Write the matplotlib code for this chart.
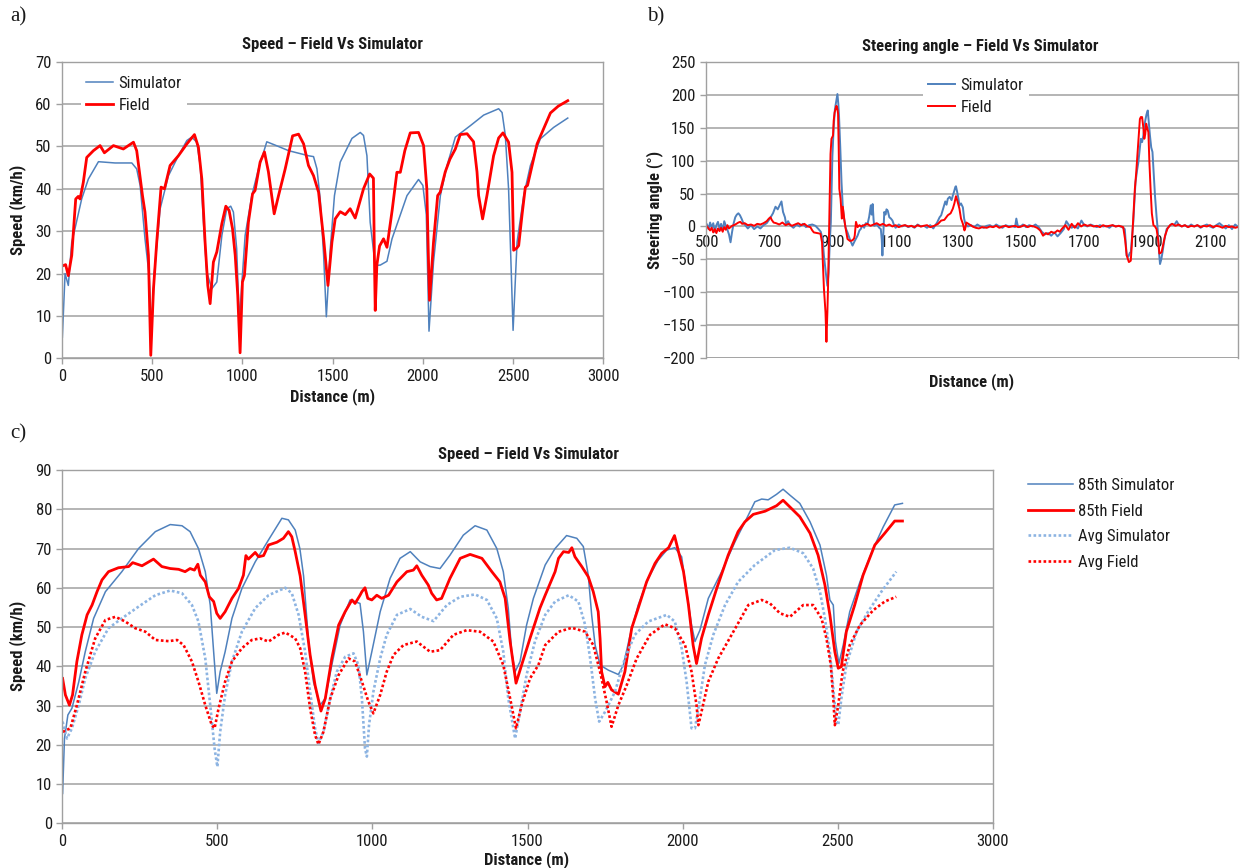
import matplotlib
matplotlib.use("Agg")
import matplotlib.pyplot as plt
from matplotlib import font_manager as fm

# ---------------------------------------------------------------- data
# a) speed along the route, single run
a_sim_x = [2, 17, 35, 54, 72, 109, 146, 202, 294, 387, 414, 433, 460, 483, 497, 512, 544, 590, 645, 692,
           719, 747, 766, 784, 802, 830, 858, 886, 913, 935, 950, 968, 983, 996, 1015, 1052, 1089, 1135, 1182, 1256,
           1330, 1366, 1394, 1413, 1431, 1450, 1465, 1487, 1510, 1542, 1607, 1653, 1671, 1690, 1708, 1736, 1764, 1801, 1829, 1912,
           1976, 2000, 2019, 2034, 2059, 2097, 2134, 2180, 2263, 2337, 2420, 2439, 2457, 2475, 2490, 2500, 2522, 2559, 2596, 2651,
           2725, 2803]
a_sim_y = [5, 20, 17.2, 27.4, 30.6, 37.6, 42.3, 46.4, 46.1, 46.1, 44.7, 40.8, 28.2, 19.5, 7, 20.4, 35.3, 43.1, 47.8, 51.4,
           52.2, 51, 45.5, 32.1, 20.4, 16.4, 18, 29, 35.3, 35.9, 34.5, 25.9, 8.6, 17.2, 29, 38.4, 44.7, 51.1, 50.3, 49,
           48.2, 47.8, 47.6, 44.7, 37.6, 24.3, 9.8, 25.9, 38.4, 46.3, 51.9, 53.3, 52.6, 47.8, 32.1, 21.9, 22, 22.9, 28.2, 38.4,
           42.2, 40.8, 33.9, 6.4, 22.7, 38.4, 45.5, 52.2, 54.9, 57.4, 58.9, 58, 52.6, 40, 20.3, 6.6, 27.4, 38.4, 45.5, 51.8,
           54.5, 56.7]

a_fld_x = [2, 20, 35, 54, 76, 90, 100, 118, 137, 174, 211, 235, 285, 340, 396, 414, 446, 460, 479, 492,
           507, 525, 549, 568, 599, 645, 692, 734, 756, 775, 793, 808, 821, 839, 858, 886, 908, 926, 945, 960,
           974, 987, 1000, 1011, 1033, 1056, 1070, 1098, 1122, 1144, 1176, 1200, 1237, 1278, 1311, 1339, 1366, 1394, 1422, 1450,
           1474, 1496, 1514, 1542, 1570, 1597, 1625, 1671, 1705, 1726, 1731, 1736, 1745, 1760, 1782, 1801, 1830, 1856, 1875, 1900,
           1930, 1976, 2004, 2022, 2030, 2037, 2059, 2082, 2096, 2124, 2150, 2180, 2207, 2245, 2281, 2300, 2309, 2331, 2355, 2392,
           2420, 2444, 2475, 2494, 2503, 2520, 2531, 2550, 2568, 2580, 2633, 2707, 2750, 2803]
a_fld_y = [21.8, 22.1, 19.5, 24.3, 37.6, 38.2, 37.6, 41.5, 47.4, 49, 50.2, 48.5, 50.2, 49.4, 51, 49, 38.4, 34.5, 24.3, 0.7,
           16.4, 27.4, 40.4, 40, 45.5, 47.8, 50.6, 52.8, 49.8, 42.3, 27.4, 17.2, 12.9, 22.7, 25.1, 31.8, 35.9, 34.9, 30.6, 24.3,
           14.9, 1.3, 18, 19.5, 32.1, 38.8, 39.6, 46.3, 48.7, 44, 34.1, 38.4, 44.7, 52.5, 52.9, 50.6, 45.5, 43.1, 39.2, 28.2,
           17.2, 27.4, 32.9, 34.6, 33.9, 35.3, 33.1, 40, 43.5, 42.5, 25, 11.3, 22, 26.5, 28.2, 26.2, 35, 43.9, 43.9, 49,
           53.2, 53.3, 50.2, 40, 25, 13.7, 27.4, 38.4, 39.2, 44, 47, 49.4, 52.8, 53, 51.1, 44, 38.4, 32.9, 38.4, 47.8,
           52, 53.2, 51, 43.9, 25.5, 26, 26.6, 34, 40.4, 40.8, 50.6, 57.9, 59.5, 60.8]

# b) steering angle
b_sim_x = [500, 505, 510, 515, 520, 525, 530, 535, 540, 545, 550, 555, 560, 565, 570, 575, 580, 585, 590, 595,
           600, 605, 610, 615, 620, 630, 640, 650, 660, 670, 680, 690, 700, 710, 718, 725, 732, 737, 742, 748,
           752, 758, 765, 775, 785, 795, 805, 815, 825, 835, 845, 855, 862, 868, 872, 878, 883, 887, 891, 894,
           899, 903, 907, 911, 915, 918, 920, 924, 928, 932, 936, 941, 947, 955, 963, 970, 979, 985, 989, 995,
           1000, 1005, 1011, 1016, 1021, 1024, 1027, 1030, 1032, 1040, 1048, 1053, 1056, 1058, 1061, 1064, 1068, 1071, 1075, 1080,
           1085, 1090, 1095, 1100, 1110, 1120, 1130, 1140, 1150, 1160, 1170, 1180, 1190, 1200, 1210, 1220, 1225, 1232, 1240, 1245,
           1252, 1258, 1262, 1266, 1272, 1278, 1282, 1286, 1290, 1292, 1296, 1300, 1303, 1308, 1314, 1318, 1322, 1330, 1340, 1350,
           1360, 1370, 1380, 1390, 1400, 1410, 1420, 1430, 1440, 1450, 1460, 1470, 1480, 1484, 1488, 1495, 1505, 1515, 1525, 1535,
           1545, 1555, 1565, 1575, 1585, 1595, 1605, 1615, 1625, 1635, 1643, 1650, 1660, 1670, 1680, 1691, 1700, 1710, 1720, 1730,
           1740, 1750, 1760, 1770, 1780, 1790, 1800, 1810, 1820, 1829, 1835, 1840, 1845, 1848, 1852, 1856, 1860, 1863, 1868, 1872,
           1876, 1880, 1884, 1888, 1892, 1895, 1898, 1902, 1905, 1909, 1913, 1917, 1921, 1925, 1930, 1934, 1938, 1941, 1945, 1949,
           1955, 1962, 1970, 1978, 1986, 1994, 2000, 2010, 2020, 2030, 2040, 2050, 2060, 2070, 2080, 2090, 2100, 2110, 2120, 2130,
           2140, 2150, 2160, 2170, 2180, 2188]
b_sim_y = [3, -4, 6, -2, 5, -8, 2, 7, -3, 4, -6, 8, 1, -5, -12, -24, -8, 5, 14, 18,
           20, 17, 12, 6, 3, -3, 2, -4, 0, -3, 2, 5, 12, 20, 30, 26, 33, 38, 22, 14,
           3, 8, 2, -2, 3, 0, 4, -1, 2, 3, 1, -4, -8, -20, -44, -70, -90, -70, -20, 6,
           107, 150, 178, 190, 201, 185, 168, 120, 67, 30, 12, -2, -9, -20, -29, -22, -14, -6, -4, 2,
           -2, 5, 4, 15, 32, 18, 34, 10, 1, 3, -2, -4, -20, -44, -10, 22, 18, 26, 24, 14,
           12, 9, 2, -2, 3, 0, 2, -1, 1, -2, 3, 0, 1, -2, 2, -3, 1, 6, 14, 17,
           28, 38, 33, 42, 45, 40, 47, 53, 60, 61, 52, 42, 32, 35, 29, 12, 4, 0, 2, -1,
           3, 0, -2, 1, 2, -1, 3, 0, -2, 2, 0, 1, -1, 12, 2, -1, 3, -1, 2, 0,
           3, -1, -8, -12, -10, -14, -9, -15, -10, -4, 8, 3, -2, 1, -3, 9, 2, 0, 3, 1,
           -1, 2, 0, 1, -2, 2, 0, 1, -1, -4, -44, -46, -40, -39, -15, 7, 40, 67, 85, 97,
           115, 133, 128, 138, 155, 163, 170, 176, 160, 138, 120, 113, 80, 47, 15, -6, -40, -57, -50, -39,
           -20, -4, 0, 4, 2, 8, 3, 0, 2, -1, 3, 0, 2, -2, 1, 3, 0, -2, 2, 5,
           1, -3, 2, -4, 3, 0]

b_fld_x = [500, 505, 510, 515, 520, 525, 530, 535, 540, 545, 550, 555, 560, 565, 570, 580, 590, 600, 606, 612,
           620, 630, 640, 650, 660, 670, 680, 690, 697, 702, 706, 712, 720, 730, 740, 750, 760, 770, 780, 790,
           800, 810, 820, 829, 835, 840, 850, 861, 866, 872, 877, 880, 883, 885, 888, 891, 893, 896, 901, 903,
           906, 909, 912, 915, 917, 919, 921, 925, 929, 932, 936, 940, 947, 955, 963, 968, 970, 972, 974, 976,
           979, 985, 990, 1000, 1010, 1020, 1030, 1040, 1050, 1060, 1070, 1080, 1090, 1100, 1110, 1120, 1130, 1140, 1150, 1160,
           1170, 1180, 1190, 1200, 1210, 1223, 1235, 1245, 1255, 1266, 1275, 1282, 1287, 1292, 1297, 1303, 1308, 1314, 1319, 1322,
           1325, 1335, 1345, 1355, 1365, 1375, 1390, 1400, 1410, 1420, 1430, 1440, 1450, 1460, 1470, 1480, 1490, 1500, 1510, 1520,
           1530, 1540, 1550, 1560, 1569, 1578, 1585, 1595, 1605, 1615, 1622, 1630, 1640, 1650, 1660, 1670, 1680, 1690, 1700, 1710,
           1720, 1730, 1740, 1750, 1760, 1770, 1780, 1790, 1800, 1810, 1818, 1824, 1830, 1835, 1842, 1848, 1851, 1854, 1858, 1861,
           1865, 1869, 1873, 1877, 1880, 1884, 1888, 1891, 1894, 1897, 1900, 1904, 1907, 1911, 1915, 1920, 1925, 1930, 1935, 1939,
           1943, 1946, 1950, 1957, 1965, 1973, 1980, 1990, 2000, 2010, 2020, 2030, 2040, 2050, 2060, 2070, 2080, 2090, 2100, 2110,
           2120, 2130, 2140, 2150, 2160, 2170, 2180, 2188]
b_fld_y = [0, -3, -6, -2, -9, -4, -10, -3, -7, -2, -8, -1, -5, 2, -3, 1, 3, 6, 7, 4,
           5, 2, 3, 1, 4, 3, 5, 8, 12, 14, 10, 6, 5, 3, 6, 2, 4, 1, 3, 5,
           2, 4, 0, -1, -6, -9, -10, -11, -24, -94, -130, -175, -130, -94, -20, 57, 110, 133, 138, 160,
           173, 178, 183, 178, 171, 120, 57, 42, 12, 30, 14, 0, -19, -22, -21, -18, -14, -3, 7, 4,
           -1, 2, 0, 2, 4, 1, 3, 5, 2, 4, 1, 3, 0, 2, -1, 1, 2, 0, 1, -1,
           2, 0, 1, 2, -1, 1, 4, 9, 10, 17, 20, 27, 35, 46, 38, 27, 12, 4, -6, -2,
           6, 3, 0, -2, -3, -1, -2, 0, -1, 1, -2, 0, 1, -1, 0, 1, -1, 0, 2, -1,
           1, 0, -2, -6, -14, -10, -12, -8, -10, -6, -8, -3, 2, -5, 4, -2, 5, 0, 3, 1,
           2, 0, 1, -1, 2, 0, 1, 2, 0, 1, 0, -1, -20, -44, -54, -52, -30, -4, 30, 57,
           80, 107, 135, 163, 166, 166, 150, 133, 140, 156, 150, 143, 100, 57, 20, 2, 0, -4, -20, -41,
           -40, -39, -30, -14, -3, 2, 4, 1, 3, 0, 2, -1, 1, 0, 2, -1, 1, 0, 2, -1,
           1, 0, -2, 1, -1, 0, -2, -1]

# c) 85th percentile and average speeds
c_sim85_x = [1, 7, 18, 31, 53, 74, 101, 139, 192, 246, 300, 348, 386, 412, 439, 461, 477, 488, 498, 509,
             525, 547, 579, 622, 665, 708, 729, 751, 766, 778, 794, 810, 831, 848, 869, 896, 928, 960, 971, 982,
             998, 1025, 1057, 1089, 1122, 1154, 1186, 1218, 1250, 1293, 1331, 1369, 1401, 1422, 1438, 1449, 1460, 1476, 1497, 1519,
             1557, 1589, 1626, 1659, 1680, 1696, 1707, 1718, 1734, 1761, 1793, 1809, 1831, 1857, 1889, 1921, 1949, 1975, 1997, 2013,
             2029, 2040, 2056, 2083, 2126, 2169, 2212, 2233, 2255, 2276, 2303, 2324, 2346, 2378, 2411, 2443, 2464, 2475, 2486, 2493,
             2504, 2518, 2539, 2572, 2615, 2647, 2684, 2709]
c_sim85_y = [7.6, 21.6, 27.6, 29.3, 36, 43.7, 52.2, 59, 64.1, 70, 74.3, 76.1, 75.8, 74.3, 70, 64.1, 55.6, 43.7, 33.1, 38.6,
             43.7, 52.2, 59.8, 66.6, 72.2, 77.7, 77.3, 74.7, 70, 63, 46.3, 36, 30.1, 31.8, 40.3, 50.5, 56.9, 56, 48.8, 37.8,
             43.7, 53.9, 62.4, 67.5, 69.2, 66.6, 65.4, 64.9, 68.3, 73.4, 75.8, 74.7, 70, 64.1, 54.8, 43.7, 38.6, 41.2, 50.5, 57.3,
             65.8, 70, 73.3, 72.6, 70.5, 63.2, 53, 45.4, 40.3, 39, 37.9, 40.3, 48, 55.6, 62.4, 67, 69.6, 70.2, 67.9, 59,
             50.5, 46.3, 49.2, 57.3, 64.1, 71.7, 78.5, 81.9, 82.6, 82.4, 83.8, 85.1, 83.6, 81.5, 76.8, 70.9, 63.2, 56.9, 55.6, 46.3,
             40.7, 45.4, 53.9, 61.5, 70, 75.5, 81.1, 81.5]

c_fld85_x = [1, 10, 23, 33, 47, 63, 80, 96, 112, 128, 149, 181, 214, 227, 257, 294, 321, 348, 375, 396,
             412, 426, 437, 445, 461, 474, 488, 498, 509, 525, 547, 568, 584, 592, 600, 622, 633, 649, 665, 692,
             713, 729, 740, 751, 767, 783, 799, 815, 834, 848, 869, 891, 912, 934, 944, 960, 966, 976, 985, 998,
             1014, 1030, 1052, 1079, 1111, 1132, 1143, 1159, 1180, 1191, 1207, 1223, 1250, 1283, 1315, 1353, 1385, 1411, 1428, 1444,
             1463, 1481, 1508, 1540, 1557, 1589, 1600, 1616, 1633, 1643, 1653, 1675, 1696, 1712, 1728, 1734, 1739, 1750, 1759, 1771,
             1793, 1814, 1836, 1857, 1884, 1911, 1933, 1955, 1974, 1987, 2003, 2019, 2034, 2045, 2061, 2083, 2110, 2147, 2179, 2201,
             2228, 2266, 2303, 2324, 2346, 2378, 2411, 2437, 2459, 2475, 2491, 2502, 2512, 2528, 2555, 2582, 2620, 2652, 2684, 2709]
c_fld85_y = [36.9, 32.7, 30.1, 32.7, 41.2, 48, 53.1, 55.6, 59, 62, 64.1, 65.1, 65.4, 66.4, 65.6, 67.3, 65.4, 64.9, 64.7, 64.1,
             64.9, 64.5, 66, 63.2, 61.5, 57.7, 56.5, 53.5, 52.2, 53.9, 57.3, 59.8, 63.2, 68.2, 67.3, 69, 67.9, 68.2, 70.9, 71.6,
             72.6, 74.3, 73, 69.2, 63, 53.1, 42.9, 35.2, 28.6, 31.8, 42, 50.5, 53.9, 56.9, 56, 58.1, 59, 60, 57.3, 56.9,
             58.1, 57.3, 58.1, 61.5, 64.1, 64.5, 65.6, 63.2, 60.7, 58.6, 56.9, 57.3, 62.4, 67.5, 68.5, 67.5, 64.1, 61.5, 57.3, 46.3,
             35.7, 40.3, 47.1, 54.8, 58.1, 64.1, 67.5, 69.2, 69, 70.2, 67.9, 65.4, 62.8, 59, 53.9, 47.1, 38.6, 34.8, 35.9, 34,
             32.9, 38.6, 49.7, 54.8, 61.5, 66.2, 68.8, 70.2, 73.3, 69.2, 64.1, 55.6, 45.4, 40.7, 47.1, 53.1, 59.8, 68.3, 74.3, 76.8,
             78.7, 79.5, 80.9, 82.3, 80.6, 78.1, 73.9, 68.3, 60.7, 53.1, 43.7, 39.5, 39.9, 48.8, 55.6, 63.2, 70.9, 73.9, 77, 77]

c_simavg_x = [1, 15, 31, 53, 74, 106, 149, 192, 246, 300, 348, 386, 418, 439, 461, 477, 491, 500, 509, 525,
              547, 579, 622, 665, 719, 740, 762, 783, 799, 815, 826, 842, 864, 885, 912, 939, 955, 966, 976, 982,
              989, 1003, 1025, 1046, 1079, 1122, 1159, 1197, 1240, 1283, 1331, 1369, 1401, 1422, 1438, 1460, 1476, 1497, 1524, 1557,
              1589, 1633, 1664, 1686, 1702, 1718, 1731, 1750, 1782, 1814, 1846, 1889, 1949, 1975, 1997, 2013, 2029, 2040, 2056, 2072,
              2099, 2137, 2179, 2233, 2298, 2346, 2389, 2421, 2443, 2459, 2475, 2486, 2496, 2502, 2512, 2528, 2561, 2598, 2641, 2689]
c_simavg_y = [25.9, 21.6, 24.2, 30.1, 36.9, 43.7, 49.7, 52.2, 55.2, 58.1, 59.3, 58.6, 55.6, 51.4, 42, 30.1, 19.1, 14.4, 23.3, 32.7,
              41.2, 48.8, 54.8, 58.1, 60, 58.6, 53.1, 43.7, 33.5, 24.2, 20.4, 23.3, 31.8, 38.6, 42.4, 43.3, 40.3, 31.8, 19.1, 17,
              25, 33.5, 42, 48, 53.1, 54.6, 52.6, 51.5, 55.6, 57.7, 58.3, 56.9, 52.2, 43.7, 31.8, 21.6, 28.4, 37.8, 46.3, 53.1,
              56.5, 58.1, 56.5, 50.5, 42, 31.8, 25.9, 28.4, 33.5, 42, 48, 51.4, 53.1, 51.4, 44.6, 36.1, 24.2, 24.2, 31.8, 40.3,
              48, 55.6, 61.5, 65.8, 69.6, 70.2, 68.8, 64.9, 59, 52.2, 43.7, 34.4, 25.9, 25, 31.8, 40.3, 48.8, 53.9, 59, 64.1]

c_fldavg_x = [1, 26, 47, 74, 106, 139, 171, 203, 235, 268, 300, 343, 370, 391, 418, 439, 461, 482, 491, 504,
              525, 547, 579, 611, 638, 665, 697, 719, 751, 767, 783, 799, 815, 826, 842, 864, 891, 923, 944, 966,
              987, 1003, 1025, 1046, 1068, 1100, 1143, 1186, 1218, 1261, 1304, 1347, 1390, 1422, 1444, 1463, 1481, 1508, 1535, 1557,
              1600, 1643, 1686, 1712, 1734, 1755, 1771, 1793, 1820, 1852, 1895, 1943, 1975, 2008, 2029, 2045, 2051, 2061, 2083, 2115,
              2158, 2212, 2255, 2282, 2314, 2346, 2389, 2421, 2448, 2464, 2478, 2486, 2491, 2502, 2516, 2539, 2572, 2615, 2652, 2689]
c_fldavg_y = [23.3, 24.2, 30.1, 38.6, 47.1, 51.8, 52.6, 51.4, 49.7, 48.8, 46.7, 46.4, 46.7, 45.4, 41.2, 36.1, 30.1, 25, 24.2, 29.3,
              36.1, 41.2, 44.6, 46.7, 47.1, 46.3, 48, 48.6, 47.1, 44.6, 38.6, 29.3, 22.5, 20.1, 23.3, 31.8, 37.8, 42, 41.2, 36.1,
              31, 28, 32.7, 38.6, 42.9, 45.4, 46.3, 43.7, 44.1, 48, 49.2, 48.8, 46.3, 40.3, 31.8, 24.2, 30.1, 36.9, 40.3, 45.4,
              48.8, 49.8, 48.8, 45.4, 38.6, 31, 24.6, 30.1, 35.2, 42, 48, 50.7, 49.7, 45.4, 38.6, 30.1, 25, 28.4, 36.1, 42,
              48, 55.6, 56.9, 56, 53.5, 52.6, 55.6, 55.6, 52.2, 47.1, 40.3, 31.8, 25, 30.1, 38.6, 45.4, 50.5, 54.3, 56.5, 57.7]

# ---------------------------------------------------------------- fonts
_fonts = fm.fontManager.ttflist
_names = {f.name for f in _fonts}
SANS, STRETCH = "DejaVu Sans", "condensed"
for cand in ["Liberation Sans Narrow", "DejaVu Sans Condensed", "Roboto Condensed"]:
    if cand in _names:
        SANS, STRETCH = cand, "normal"
        break
SERIF = "Liberation Serif" if "Liberation Serif" in _names else "DejaVu Serif"

plt.rcParams["font.family"] = [SANS, "DejaVu Sans"]
plt.rcParams["font.stretch"] = STRETCH

W, H = 1246, 868
BLUE = "#4F81BD"
RED = "#FF0000"
LBLUE = "#8DB4E2"
GRID = "#A0A0A0"
TXT = "#1a1a1a"


def fx(x):
    return x / W


def fy(y):
    return 1 - y / H


def box(l, t, r, b):
    return [fx(l), fy(b), (r - l) / W, (b - t) / H]


def style(ax):
    for s in ax.spines.values():
        s.set_color(GRID)
        s.set_linewidth(1.0)
    ax.grid(axis="y", color=GRID, linewidth=1.1)
    ax.grid(axis="x", visible=False)
    ax.set_axisbelow(True)
    ax.tick_params(axis="both", colors=GRID, labelcolor=TXT, labelsize=12,
                   length=4, width=1, direction="out")


def inner_legend(ax, left_px, top_px, l, t, w, h):
    leg = ax.legend(loc="upper left", bbox_to_anchor=((left_px - l) / w, (t + h - top_px) / h),
                    frameon=True, fancybox=False, framealpha=1, edgecolor="none", facecolor="white",
                    fontsize=12, handlelength=1.6, handletextpad=0.35, labelspacing=0.43,
                    borderpad=0.3, borderaxespad=0)
    for t_ in leg.get_texts():
        t_.set_color(TXT)
    return leg


fig = plt.figure(figsize=(W / 100, H / 100), dpi=100)

# ---------------------------------------------------------------- a)
ax = fig.add_axes(box(62, 61.7, 603.3, 358.3))
style(ax)
ax.plot(a_sim_x, a_sim_y, color=BLUE, lw=1.1, label="Simulator")
ax.plot(a_fld_x, a_fld_y, color=RED, lw=2.0, label="Field")
ax.set_xlim(0, 3000)
ax.set_ylim(0, 70)
ax.set_xticks(range(0, 3001, 500))
ax.set_yticks(range(0, 71, 10))
inner_legend(ax, 81, 71, 62, 61.7, 541.3, 296.6)
fig.text(fx(333), fy(44), "Speed \u2013 Field Vs Simulator", ha="center", va="center",
         fontsize=12, fontweight="bold", color=TXT)
fig.text(fx(333), fy(397), "Distance (m)", ha="center", va="center",
         fontsize=12, fontweight="bold", color=TXT)
fig.text(fx(18), fy(210), "Speed (km/h)", ha="center", va="center", rotation=90,
         fontsize=12, fontweight="bold", color=TXT)
fig.text(fx(10), fy(17), "a)", ha="left", va="center", fontsize=15, family=SERIF,
         stretch="normal", color=TXT)

# ---------------------------------------------------------------- b)
ax = fig.add_axes(box(705.7, 61.7, 1238.3, 358.3))
style(ax)
ax.plot(b_sim_x, b_sim_y, color=BLUE, lw=1.4, label="Simulator")
ax.plot(b_fld_x, b_fld_y, color=RED, lw=1.4, label="Field")
ax.set_xlim(496, 2190)
ax.set_ylim(-200, 250)
ax.set_xticks(range(500, 2101, 200))
ax.set_yticks(range(-200, 251, 50))
ax.spines["bottom"].set_position(("data", 0))
ax.spines["bottom"].set_visible(False)
ax.tick_params(axis="x", length=0, pad=6)
ax.axhline(-200, color=GRID, lw=1.1, zorder=0)
inner_legend(ax, 923, 73, 705.7, 61.7, 532.6, 296.6)
fig.text(fx(980), fy(46), "Steering angle \u2013 Field Vs Simulator", ha="center", va="center",
         fontsize=12, fontweight="bold", color=TXT)
fig.text(fx(972), fy(382), "Distance (m)", ha="center", va="center",
         fontsize=12, fontweight="bold", color=TXT)
fig.text(fx(655), fy(210), "Steering angle (\u00b0)", ha="center", va="center", rotation=90,
         fontsize=12, fontweight="bold", color=TXT)
fig.text(fx(647), fy(17), "b)", ha="left", va="center", fontsize=15, family=SERIF,
         stretch="normal", color=TXT)

# ---------------------------------------------------------------- c)
ax = fig.add_axes(box(62.3, 470, 992.7, 823.3))
style(ax)
l1, = ax.plot(c_sim85_x, c_sim85_y, color=BLUE, lw=1.1, label="85th Simulator")
l2, = ax.plot(c_fld85_x, c_fld85_y, color=RED, lw=2.0, label="85th Field")
l3, = ax.plot(c_simavg_x, c_simavg_y, color=LBLUE, lw=1.9, linestyle=(0, (1.0, 0.9)),
              label="Avg Simulator")
l4, = ax.plot(c_fldavg_x, c_fldavg_y, color=RED, lw=1.9, linestyle=(0, (1.0, 0.9)),
              label="Avg Field")
ax.set_xlim(0, 3000)
ax.set_ylim(0, 90)
ax.set_xticks(range(0, 3001, 500))
ax.set_yticks(range(0, 91, 10))
leg = fig.legend(handles=[l1, l2, l3, l4], loc="upper left",
                 bbox_to_anchor=(fx(1028), fy(478)), frameon=False, fontsize=12,
                 handlelength=2.7, handletextpad=0.28, labelspacing=0.64,
                 borderpad=0, borderaxespad=0)
for t in leg.get_texts():
    t.set_color(TXT)
fig.text(fx(528), fy(455), "Speed \u2013 Field Vs Simulator", ha="center", va="center",
         fontsize=12, fontweight="bold", color=TXT)
fig.text(fx(527), fy(860), "Distance (m)", ha="center", va="center",
         fontsize=12, fontweight="bold", color=TXT)
fig.text(fx(18), fy(646), "Speed (km/h)", ha="center", va="center", rotation=90,
         fontsize=12, fontweight="bold", color=TXT)
fig.text(fx(10), fy(434), "c)", ha="left", va="center", fontsize=15, family=SERIF,
         stretch="normal", color=TXT)

fig.savefig("out.png", dpi=100, facecolor="white")
